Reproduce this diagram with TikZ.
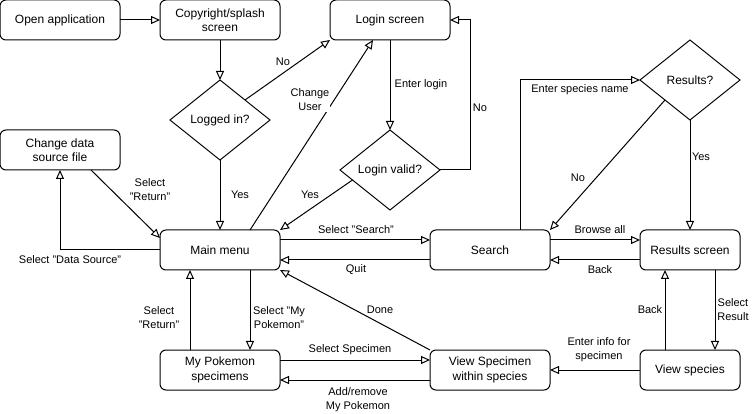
\documentclass[tikz,border=0pt]{standalone}
\usepackage{fontspec}
\setmainfont{Liberation Sans}
\usetikzlibrary{arrows.meta,shapes.geometric,calc}
\begin{document}
\begin{tikzpicture}[x=1pt,y=-1pt,
  box/.style={draw, rounded corners=6pt, minimum width=120pt, minimum height=40pt,
    align=center, inner sep=0pt, outer sep=0pt, line width=1pt,
    font=\fontsize{12}{14.5}\selectfont},
  dec/.style={draw, diamond, minimum width=100pt, minimum height=80pt, aspect=1.25,
    align=center, inner sep=0pt, outer sep=0pt, line width=1pt,
    font=\fontsize{12}{14.5}\selectfont},
  lbl/.style={fill=white, inner sep=1pt, align=center,
    font=\fontsize{11}{14}\selectfont},
  arr/.style={line width=1pt, -{Triangle[open,length=9pt,width=8pt]}}]
\useasboundingbox (0,0) rectangle (753,414);
% nodes
\node[box] (open) at (60,20) {Open application};
\node[box] (splash) at (220,20) {Copyright/splash\\screen};
\node[box] (login) at (390,20) {Login screen};
\node[dec] (lg) at (220,120) {Logged in?};
\node[box] (cds) at (60,150) {Change data\\source file};
\node[dec] (lv) at (390,170) {Login valid?};
\node[dec] (res) at (690,80) {Results?};
\node[box] (main) at (220,250) {Main menu};
\node[box] (srch) at (490,250) {Search};
\node[box, minimum width=100pt] (rs) at (690,250) {Results screen};
\node[box] (myp) at (220,370) {My Pokemon\\specimens};
\node[box] (vsp) at (490,370) {View Specimen\\within species};
\node[box, minimum width=100pt] (vs) at (690,370) {View species};
% connectors
\draw[arr] (open) -- (splash);
\draw[arr] (splash) -- (lg);
\draw[arr] (lg.north east) -- (login.south west);
\draw[arr] (lg) -- (main);
\draw[arr] ([xshift=30pt]main.north) -- ([xshift=-17pt]login.south);
\draw[arr] (login) -- (lv);
\draw[arr] (lv.east) -- ++(30,0) |- (login.east);
\draw[arr] ($(lv.west)!0.25!(lv.south)$) -- (main.north east);
\draw[arr] ([xshift=31pt]cds.south) -- ([yshift=12pt]main.west);
\draw[arr] (main.west) -| (cds.south);
\draw[arr] ([yshift=10pt]main.east) -- ([yshift=10pt]srch.west);
\draw[arr] ([yshift=-10pt]srch.west) -- ([yshift=-10pt]main.east);
\draw[arr] ([xshift=30pt]srch.north) |- (res.west);
\draw[arr] (res.south west) -- (srch.north east);
\draw[arr] (res) -- (rs);
\draw[arr] ([yshift=10pt]srch.east) -- ([yshift=10pt]rs.west);
\draw[arr] ([yshift=-10pt]rs.west) -- ([yshift=-10pt]srch.east);
\draw[arr] ([xshift=25pt]rs.south) -- ([xshift=25pt]vs.north);
\draw[arr] ([xshift=-25pt]vs.north) -- ([xshift=-25pt]rs.south);
\draw[arr] (vs) -- (vsp);
\draw[arr] ([yshift=-10pt]vsp.west) -- ([yshift=-10pt]myp.east);
\draw[arr] ([yshift=10pt]myp.east) -- ([yshift=10pt]vsp.west);
\draw[arr] (vsp.north west) -- (main.south east);
\draw[arr] ([xshift=-30pt]myp.north) -- ([xshift=-30pt]main.south);
\draw[arr] ([xshift=30pt]main.south) -- ([xshift=30pt]myp.north);
% labels
\node[lbl] (l1) at (283,62) {No};
\node[lbl] (l2) at (240,195) {Yes};
\node[lbl] (l3) at (310,100) {Change\\User};
\node[lbl] (l4) at (421,85) {Enter login};
\node[lbl] (l5) at (480,108) {No};
\node[lbl] (l6) at (310,195) {Yes};
\node[lbl] (l7) at (150,190) {Select\\"Return"};
\node[lbl] (l8) at (70,260) {Select "Data Source"};
\node[lbl] (l9) at (356,230) {Select "Search"};
\node[lbl] (l10) at (356,270) {Quit};
\node[lbl] (l11) at (580,90) {Enter species name};
\node[lbl] (l12) at (578,178) {No};
\node[lbl] (l13) at (701,157) {Yes};
\node[lbl] (l14) at (600,230) {Browse all};
\node[lbl] (l15) at (600,270) {Back};
\node[lbl] (l16) at (733,310) {Select\\Result};
\node[lbl] (l17) at (650,310) {Back};
\node[lbl] (l18) at (599,350) {Enter info for\\specimen};
\node[lbl] (l19) at (350,350) {Select Specimen};
\node[lbl] (l20) at (358,400) {Add/remove\\My Pokemon};
\node[lbl] (l21) at (380,310) {Done};
\node[lbl] (l22) at (159,318) {Select\\"Return"};
\node[lbl] (l23) at (279,318) {Select "My\\Pokemon"};
\end{tikzpicture}
\end{document}
